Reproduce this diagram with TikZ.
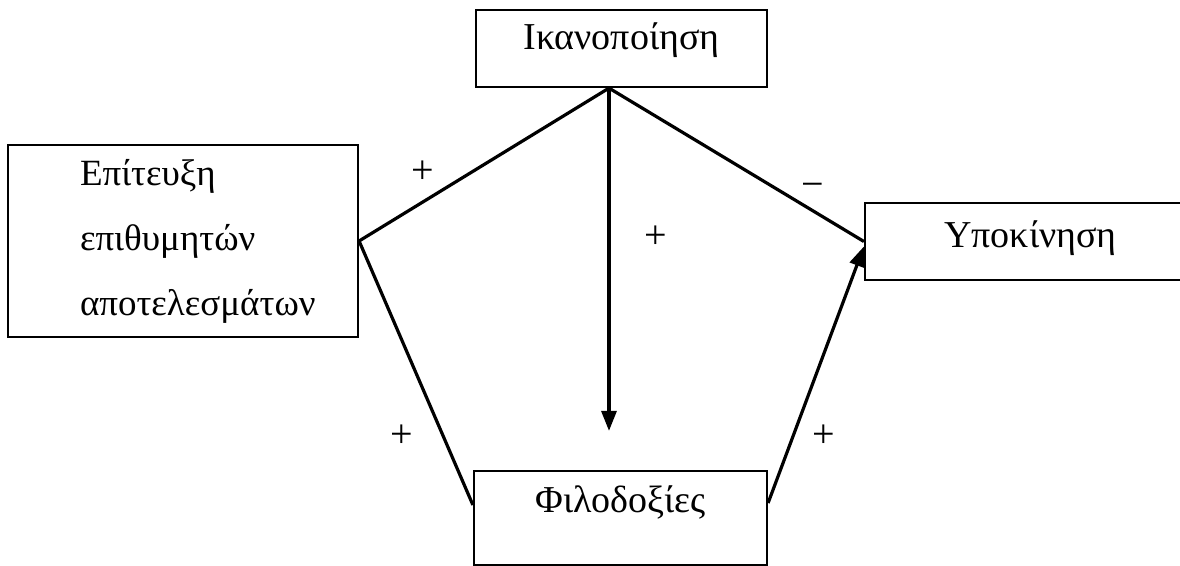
\documentclass[tikz,border=0pt]{standalone}
\usepackage{fontspec}
\setmainfont{Liberation Serif}
\usetikzlibrary{arrows.meta,positioning}

\begin{document}
\begin{tikzpicture}[
    x=0.5pt, y=-0.5pt,
    box/.style={draw, line width=1.1pt, align=center, inner sep=0pt, font=\fontsize{19pt}{23pt}\selectfont},
    con/.style={line width=1.6pt},
    arr/.style={con, -{Triangle[length=10pt, width=7.5pt]}},
    lbl/.style={inner sep=0pt, font=\fontsize{20pt}{23pt}\selectfont}
]
\clip (0,0) rectangle (1180,566);
\node[box, minimum width=145.5pt, minimum height=38.5pt, text height=10pt, text depth=8.5pt] (sat) at (621.5,48.5) {Ικανοποίηση};
\node[box, minimum width=175pt, minimum height=96pt, inner xsep=36pt, text width=103pt, align=flush left, font=\fontsize{18.5pt}{32.5pt}\selectfont] (ach) at (183,241) {Επίτευξη\\επιθυμητών\\αποτελεσμάτων};
\node[box, minimum width=165.5pt, minimum height=38.5pt, text height=10pt, text depth=3.5pt] (mot) at (1030.5,241.5) {Υποκίνηση};
\node[box, minimum width=146.5pt, minimum height=47pt, text height=10pt, text depth=15pt] (amb) at (620.5,518) {Φιλοδοξίες};

\draw[con] ([xshift=-6.25pt]sat.south) -- node[lbl, pos=0.745, yshift=14.75pt] {+} (ach.east);
\draw[con] ([xshift=-6.25pt]sat.south) -- node[lbl, pos=0.8, yshift=10pt] {−} (mot.west);
\draw[arr] ([xshift=-6.25pt]sat.south) -- node[lbl, pos=0.435, xshift=23.5pt] {+} ([shift={(-5.75pt,19.5pt)}]amb.north);
\draw[con] (ach.east) -- node[lbl, pos=0.74, xshift=-20.8pt] {+} ([yshift=6.5pt]amb.west);
\draw[arr] ([yshift=7.5pt]amb.east) -- node[lbl, pos=0.26, xshift=15.4pt] {+} ([yshift=-2.5pt]mot.west);
\end{tikzpicture}
\end{document}
